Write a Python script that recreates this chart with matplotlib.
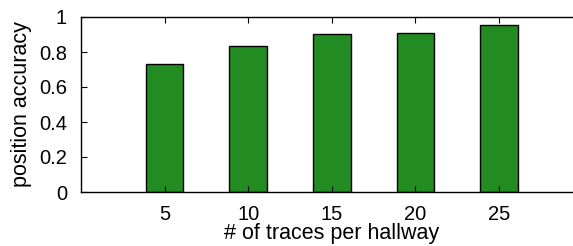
import numpy as np
import matplotlib.pyplot as plt
from matplotlib import rcParams

rcParams['font.family'] = ['Liberation Sans', 'DejaVu Sans']

traces = [5, 10, 15, 20, 25]
accuracy = [0.73, 0.836, 0.903, 0.91, 0.954]
yticks = [0, 0.2, 0.4, 0.6, 0.8, 1]
ylabels = ['0', '0.2', '0.4', '0.6', '0.8', '1']

fig = plt.figure(figsize=(5.73, 2.46), dpi=100)
# right border of the frame falls just outside the picture, as in the original
ax = fig.add_axes([81 / 573, 54 / 246, 501.6 / 573, 175 / 246])

ax.bar(traces, accuracy, width=2.25, color='#228B22', edgecolor='black', linewidth=1)

ax.set_xlim(0, 30)
ax.set_ylim(0, 1)
ax.set_xticks(traces)
ax.set_yticks(yticks)
ax.set_yticklabels(ylabels)
ax.tick_params(axis='both', direction='in', length=4, labelsize=14.5, width=0.8)
ax.tick_params(axis='x', top=True, pad=9)
ax.tick_params(axis='y', pad=10)
ax.spines['right'].set_visible(False)
for s in ax.spines.values():
    s.set_linewidth(1)

ax.set_xlabel('# of traces per hallway', fontsize=15.5, labelpad=0)
ax.set_ylabel('position accuracy', fontsize=15.5, labelpad=5)

fig.savefig('out.png', dpi=100)
